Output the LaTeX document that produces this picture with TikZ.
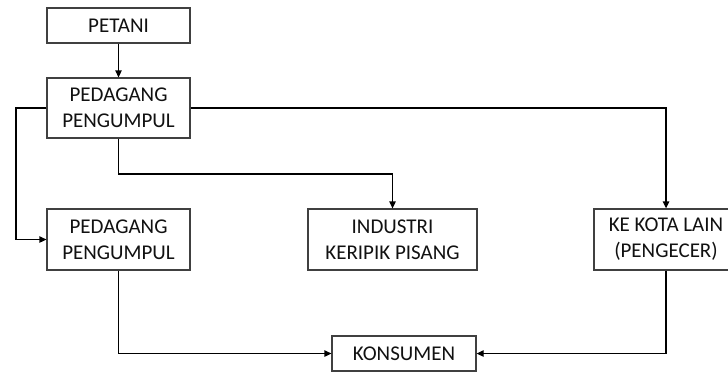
\documentclass[tikz,border=0pt]{standalone}
\usepackage{fontspec}
\setmainfont{Carlito}
\usetikzlibrary{arrows.meta,positioning}
\definecolor{boxline}{HTML}{404040}
\definecolor{txt}{HTML}{111111}
\tikzset{
  flowbox/.style={draw=boxline, line width=1.3pt, fill=white, text=txt,
    align=center, inner sep=0pt, font=\fontsize{21}{26}\selectfont},
  flowarrow/.style={draw=black, line width=1.3pt,
    -{Triangle[length=7pt,width=6.5pt]}},
}
\begin{document}
\begin{tikzpicture}[x=1pt,y=-1pt]
\clip (0,0) rectangle (728,372);
\node[flowbox, minimum width=143pt, minimum height=35pt] (petani) at (118.5,25.5) {PETANI};
\node[flowbox, minimum width=143pt, minimum height=60pt] (pp1) at (118.5,108) {PEDAGANG\\PENGUMPUL};
\node[flowbox, minimum width=143pt, minimum height=61pt] (pp2) at (118.5,239.5) {PEDAGANG\\PENGUMPUL};
\node[flowbox, minimum width=169pt, minimum height=61pt] (ind) at (392.5,239.5) {INDUSTRI\\KERIPIK PISANG};
\node[flowbox, minimum width=144pt, minimum height=61pt] (kota) at (666,239.5) {KE KOTA LAIN\\(PENGECER)};
\node[flowbox, minimum width=144pt, minimum height=35pt] (kons) at (404,353.5) {KONSUMEN};
\coordinate (lft) at (16,108);
\coordinate (mid) at (118.5,174);
\draw[flowarrow] (petani) -- (pp1);
\draw[flowarrow] (pp1.west) -- (lft) |- (pp2.west);
\draw[flowarrow] (pp1.south) -- (mid) -| (ind.north);
\draw[flowarrow] (pp1.east) -| (kota.north);
\draw[flowarrow] (pp2.south) |- (kons.west);
\draw[flowarrow] (kota.south) |- (kons.east);
\end{tikzpicture}
\end{document}
